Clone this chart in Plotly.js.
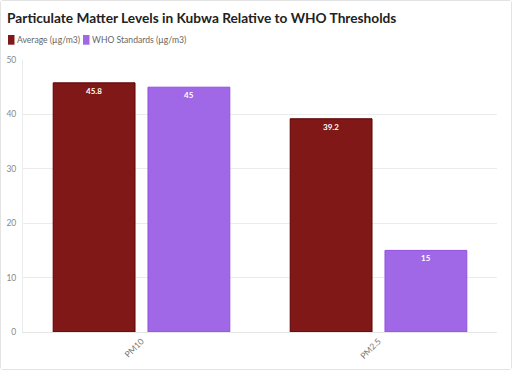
<!DOCTYPE html>
<html><head><meta charset="utf-8">
<script src="https://cdn.plot.ly/plotly-3.0.1.min.js"></script>
<style>html,body{margin:0;padding:0;background:#fff}#chart{width:512px;height:370px;box-sizing:border-box;border:1px solid #e3e3e3;border-radius:3px}</style>
</head><body><div id="chart"></div>
<script>
const categories = ["PM10", "PM2.5"];
const averageValues = [45.8, 39.2];
const whoValues = [45, 15];
const seriesNames = ["Average (µg/m3)", "WHO Standards (µg/m3)"];
const seriesColors = ["#801818", "#a068e6"];
const yTicks = [0, 10, 20, 30, 40, 50];

const FONT = "Lato, 'Noto Sans', sans-serif";
const textFont = {family: FONT, size: 8, color: "#ffffff", weight: 700};
const traces = [
  {type: "bar", x: categories, y: averageValues, name: seriesNames[0],
   marker: {color: seriesColors[0], line: {color: "#5e0000", width: 1}},
   text: averageValues.map(String), textposition: "inside", insidetextanchor: "end",
   textfont: textFont, textangle: 0},
  {type: "bar", x: categories, y: whoValues, name: seriesNames[1],
   marker: {color: seriesColors[1], line: {color: "#9050e0", width: 1}},
   text: whoValues.map(String), textposition: "inside", insidetextanchor: "end",
   textfont: textFont, textangle: 0}
];
// legend key placement (plot area: left 23px, width 474px; top 60px, height 272px)
const px = v => (v - 23) / 474;
const py = v => 1 + (60 - v) / 272;
const keyLeft = [8, 83];
const labelLeft = [15.5, 91];
const shapes = seriesNames.map((n, i) => ({
  type: "rect", xref: "paper", yref: "paper",
  x0: px(keyLeft[i]), x1: px(keyLeft[i] + 6.5), y0: py(44.7), y1: py(35),
  fillcolor: seriesColors[i], line: {width: 0}
}));
const annotations = seriesNames.map((n, i) => ({
  xref: "paper", yref: "paper", x: px(labelLeft[i]), y: py(40), xanchor: "left", yanchor: "middle",
  showarrow: false, borderpad: 0, text: n, font: {family: FONT, size: 8.6, color: "#666"}
}));
const layout = {
  width: 510, height: 368,
  margin: {l: 22, r: 14, t: 59, b: 37},
  paper_bgcolor: "#fff", plot_bgcolor: "#fff",
  title: {text: "Particulate Matter Levels in Kubwa Relative to WHO Thresholds",
    x: 0.012, xanchor: "left", y: 0.952, yanchor: "middle",
    font: {family: FONT, size: 13.7, color: "#222", weight: 700}},
  showlegend: false,
  shapes: shapes,
  annotations: annotations,
  barmode: "group", bargap: 0.2, bargroupgap: 0.137,
  xaxis: {type: "category", range: [-0.5, 1.5], tickangle: -45,
    tickfont: {family: FONT, size: 8.5, color: "#777"},
    showgrid: false, showline: true, linecolor: "#e6e6e6", ticks: ""},
  yaxis: {range: [0, 50], tickvals: yTicks, ticks: "",
    tickfont: {family: FONT, size: 8.5, color: "#888"},
    gridcolor: "#ececec", showline: true, linecolor: "#ececec", zeroline: false, ticklabelstandoff: 4},
  font: {family: FONT}
};
Plotly.newPlot("chart", traces, layout, {displayModeBar: false, staticPlot: true});
</script></body></html>
